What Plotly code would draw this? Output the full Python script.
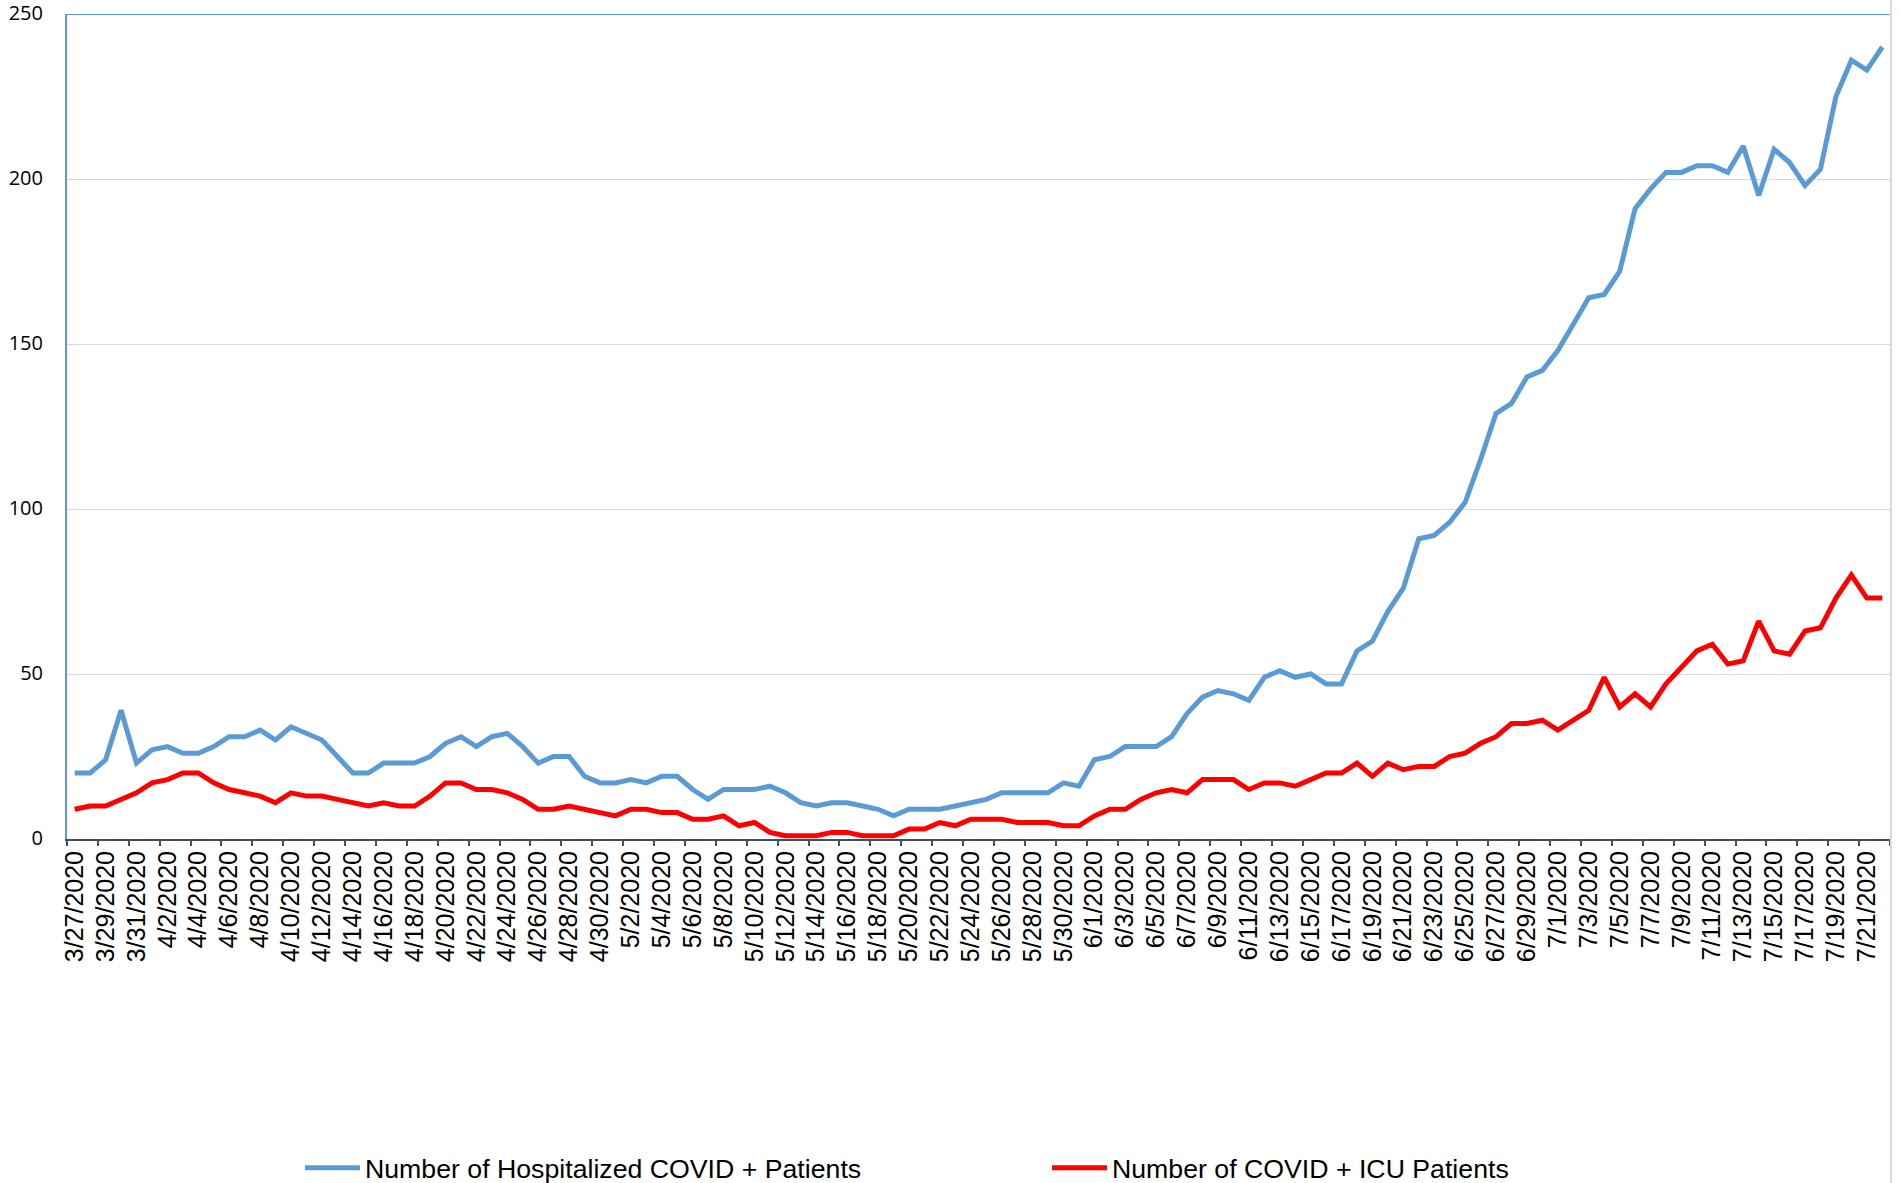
import plotly.graph_objects as go
import datetime as dt

# ---- data ----
start = dt.date(2020, 3, 27)
dates = [f"{d.month}/{d.day}/{d.year}" for d in (start + dt.timedelta(days=i) for i in range(118))]

hospitalized = [
    20, 20, 24, 39, 23,                                   # 3/27-3/31
    27, 28, 26, 26, 28, 31, 31, 33, 30, 34, 32, 30, 25, 20, 20,
    23, 23, 23, 25, 29, 31, 28, 31, 32, 28, 23, 25, 25, 19, 17,   # April
    17, 18, 17, 19, 19, 15, 12, 15, 15, 15, 16, 14, 11, 10, 11,
    11, 10, 9, 7, 9, 9, 9, 10, 11, 12, 14, 14, 14, 14, 17, 16,   # May
    24, 25, 28, 28, 28, 31, 38, 43, 45, 44, 42, 49, 51, 49, 50,
    47, 47, 57, 60, 69, 76, 91, 92, 96, 102, 115, 129, 132, 140, 142,  # June
    148, 156, 164, 165, 172, 191, 197, 202, 202, 204, 204, 202, 210, 195, 209,
    205, 198, 203, 225, 236, 233, 240,                    # July 1-22
]

icu = [
    9, 10, 10, 12, 14,                                    # 3/27-3/31
    17, 18, 20, 20, 17, 15, 14, 13, 11, 14, 13, 13, 12, 11, 10,
    11, 10, 10, 13, 17, 17, 15, 15, 14, 12, 9, 9, 10, 9, 8,   # April
    7, 9, 9, 8, 8, 6, 6, 7, 4, 5, 2, 1, 1, 1, 2,
    2, 1, 1, 1, 3, 3, 5, 4, 6, 6, 6, 5, 5, 5, 4, 4,       # May
    7, 9, 9, 12, 14, 15, 14, 18, 18, 18, 15, 17, 17, 16, 18,
    20, 20, 23, 19, 23, 21, 22, 22, 25, 26, 29, 31, 35, 35, 36,   # June
    33, 36, 39, 49, 40, 44, 40, 47, 52, 57, 59, 53, 54, 66, 57,
    56, 63, 64, 73, 80, 73, 73,                           # July 1-22
]

series_names = ["Number of Hospitalized COVID + Patients", "Number of COVID + ICU Patients"]
y_ticks = [0, 50, 100, 150, 200, 250]

BLUE = "#5B9BD5"
RED = "#FF0000"

fig = go.Figure()
fig.add_trace(go.Scatter(x=dates, y=hospitalized, mode="lines", name=series_names[0],
                         line=dict(color=BLUE, width=5), legend="legend"))
fig.add_trace(go.Scatter(x=dates, y=icu, mode="lines", name=series_names[1],
                         line=dict(color=RED, width=5), legend="legend2"))

W, H = 1900, 1183
ml, mr, mt, mb = 67, 10, 14, 344
pw = W - ml - mr
ph = H - mt - mb

def px_to_paper_x(px):
    return (px - ml) / pw

def px_to_paper_y(py):
    return (H - mb - py) / ph

legend_font = dict(family="Liberation Sans, Arial, sans-serif", size=26.7, color="#000000")

fig.update_layout(
    width=W, height=H,
    margin=dict(l=ml, r=mr, t=mt, b=mb, pad=0, autoexpand=False),
    paper_bgcolor="white", plot_bgcolor="white",
    showlegend=True,
    legend=dict(orientation="h", x=px_to_paper_x(300), y=px_to_paper_y(1168),
                xanchor="left", yanchor="middle", font=legend_font,
                itemwidth=55, bgcolor="rgba(0,0,0,0)"),
    legend2=dict(orientation="h", x=px_to_paper_x(1047), y=px_to_paper_y(1168),
                 xanchor="left", yanchor="middle", font=legend_font,
                 itemwidth=55, bgcolor="rgba(0,0,0,0)"),
    xaxis=dict(
        type="category", categoryorder="array", categoryarray=dates,
        tickmode="linear", dtick=2, tick0=0,
        tickson="boundaries", ticks="outside", ticklen=5, tickwidth=1.5, tickcolor="#404F63",
        tickangle=-90, tickfont=dict(family="Liberation Sans, Arial, sans-serif", size=25, color="#000000"),
        showline=True, linecolor="#404F63", linewidth=2,
        showgrid=False, zeroline=False, automargin=False,
        range=[-0.5, len(dates) - 0.5],
    ),
    yaxis=dict(
        range=[0, 250], tickvals=y_ticks, ticks="",
        tickfont=dict(family="Open Sans, sans-serif", size=20, color="#000000"),
        ticklabelstandoff=18, ticklabeloverflow="allow", ticklabelshift=-1,
        showgrid=True, gridcolor="#D9D9D9", gridwidth=1.3,
        showline=True, linecolor=BLUE, linewidth=2,
        zeroline=False, automargin=False,
    ),
    shapes=[
        dict(type="line", xref="paper", yref="y", x0=0, x1=1, y0=250, y1=250,
             line=dict(color=BLUE, width=2)),
        dict(type="line", xref="paper", yref="paper", x0=1.0005, x1=1.0005,
             y0=px_to_paper_y(H), y1=px_to_paper_y(0),
             line=dict(color="#D9D9D9", width=2)),
    ],
)

fig.write_html("out.html", config={"displayModeBar": False},
               post_script="document.body.style.margin='0px';")
